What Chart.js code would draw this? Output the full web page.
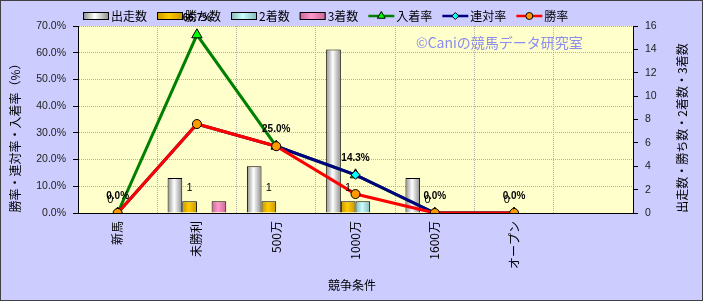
<!DOCTYPE html>
<html>
<head>
<meta charset="utf-8">
<script src="https://cdn.jsdelivr.net/npm/chart.js@4.4.0/dist/chart.umd.min.js"></script>
<style>
  html, body { margin: 0; padding: 0; background: #ccccff; }
  canvas { display: block; }
</style>
</head>
<body>
<canvas id="kyosoChart" width="703" height="301"></canvas>
<script>
// データ
const categories = ['新馬', '未勝利', '500万', '1000万', '1600万', 'オープン', ''];
const shussouSu = [0, 3, 4, 14, 3, 0, null];
const kachiSu = [0, 1, 1, 1, 0, 0, null];
const niChakuSu = [0, 0, 0, 1, 0, 0, null];
const sanChakuSu = [0, 1, 0, 0, 0, 0, null];
const nyuchakuRitsu = [0, 66.7, 25.0, 14.3, 0, 0, null];
const rentaiRitsu = [0, 33.3, 25.0, 14.3, 0, 0, null];
const shoRitsu = [0, 33.3, 25.0, 7.1, 0, 0, null];
const rateTicks = [0, 10, 20, 30, 40, 50, 60, 70];
const countTicks = [0, 2, 4, 6, 8, 10, 12, 14, 16];

const CJK = "'Noto Sans CJK JP', 'Noto Sans', sans-serif";
const LAT = "'Liberation Sans', Arial, sans-serif";
const CAT_PCT = 0.74;

// 棒グラフの円柱風グラデーション
function barFill(edge, mid, pos) {
    return (ctx) => {
        const chart = ctx.chart;
        const x = chart.scales.x;
        if (ctx.type !== 'data' || !x) return mid;
        const ruler = x.getPixelForValue(1) - x.getPixelForValue(0);
        const center = x.getPixelForValue(ctx.dataIndex);
        if (!isFinite(ruler) || !isFinite(center)) return mid;
        const group = ruler * CAT_PCT;
        const chunk = group / 4;
        const left = center - group / 2 + chunk * pos;
        const g = chart.ctx.createLinearGradient(left, 0, left + chunk, 0);
        g.addColorStop(0, edge);
        g.addColorStop(0.45, mid);
        g.addColorStop(1, edge);
        return g;
    };
}

const barColors = [
    ['#8c8c8c', '#ffffff'],
    ['#c89600', '#ffcc00'],
    ['#80b8b8', '#ccffff'],
    ['#c86496', '#ff99cc']
];

function barDataset(label, data, pos) {
    return {
        type: 'bar',
        label: label,
        data: data,
        yAxisID: 'y1',
        order: 3 + pos,
        backgroundColor: barFill(barColors[pos][0], barColors[pos][1], pos),
        borderColor: '#000',
        borderWidth: 1,
        borderSkipped: 'start',
        categoryPercentage: CAT_PCT,
        barPercentage: 1.0
    };
}

function lineDataset(label, data, color, style, fill, radius, order) {
    return {
        type: 'line',
        label: label,
        data: data,
        yAxisID: 'y',
        order: order,
        borderColor: color,
        borderWidth: 3,
        tension: 0,
        fill: false,
        pointStyle: style,
        pointRadius: radius,
        pointBackgroundColor: fill,
        pointBorderColor: '#000',
        pointBorderWidth: 1
    };
}

const datasets = [
    barDataset('出走数', shussouSu, 0),
    barDataset('勝ち数', kachiSu, 1),
    barDataset('2着数', niChakuSu, 2),
    barDataset('3着数', sanChakuSu, 3),
    lineDataset('入着率', nyuchakuRitsu, '#008000', 'triangle', '#00ff00', 6, 2),
    lineDataset('連対率', rentaiRitsu, '#000080', 'rectRot', '#00ffff', 4.5, 1),
    lineDataset('勝率', shoRitsu, '#ff0000', 'circle', '#ff9900', 4.5, 0)
];

// 背景・枠線
const backgroundPlugin = {
    id: 'background',
    beforeDraw(chart) {
        const { ctx, chartArea: a } = chart;
        ctx.save();
        ctx.fillStyle = '#ccccff';
        ctx.fillRect(0, 0, chart.width, chart.height);
        ctx.fillStyle = '#ffffcc';
        ctx.fillRect(a.left, a.top, a.right - a.left, a.bottom - a.top);
        ctx.fillStyle = '#8c8cf0';
        ctx.font = '14px ' + CJK;
        ctx.textAlign = 'left';
        ctx.textBaseline = 'middle';
        ctx.fillText('©Caniの競馬データ研究室', 416, 43);
        ctx.restore();
    },
    afterDraw(chart) {
        const ctx = chart.ctx;
        ctx.save();
        ctx.strokeStyle = '#404040';
        ctx.lineWidth = 1;
        ctx.strokeRect(0.5, 0.5, chart.width - 1, chart.height - 1);
        ctx.restore();
    }
};

function drawMarker(ctx, style, x, y, r, fill) {
    ctx.save();
    ctx.fillStyle = fill;
    ctx.strokeStyle = '#000';
    ctx.lineWidth = 1;
    ctx.beginPath();
    if (style === 'triangle') {
        ctx.moveTo(x, y - r);
        ctx.lineTo(x + r * 0.866, y + r * 0.5);
        ctx.lineTo(x - r * 0.866, y + r * 0.5);
        ctx.closePath();
    } else if (style === 'rectRot') {
        ctx.moveTo(x, y - r);
        ctx.lineTo(x + r, y);
        ctx.lineTo(x, y + r);
        ctx.lineTo(x - r, y);
        ctx.closePath();
    } else {
        ctx.arc(x, y, r, 0, Math.PI * 2);
    }
    ctx.fill();
    ctx.stroke();
    ctx.restore();
}

// 凡例（上部）
const legendPlugin = {
    id: 'topLegend',
    afterDraw(chart) {
        const ctx = chart.ctx;
        const y = 16;
        let x = 83;
        ctx.save();
        ctx.font = '12px ' + CJK;
        ctx.textBaseline = 'middle';
        ctx.textAlign = 'left';
        chart.data.datasets.forEach((ds, i) => {
            const w = 26;
            if (ds.type === 'bar') {
                const g = ctx.createLinearGradient(x, 0, x + w, 0);
                g.addColorStop(0, barColors[i][0]);
                g.addColorStop(0.45, barColors[i][1]);
                g.addColorStop(1, barColors[i][0]);
                ctx.fillStyle = g;
                ctx.fillRect(x, y - 3, w, 6);
                ctx.strokeStyle = '#000';
                ctx.lineWidth = 1;
                ctx.strokeRect(x + 0.5, y - 3.5, w - 1, 7);
            } else {
                ctx.strokeStyle = ds.borderColor;
                ctx.lineWidth = 2.5;
                ctx.beginPath();
                ctx.moveTo(x, y);
                ctx.lineTo(x + w, y);
                ctx.stroke();
                drawMarker(ctx, ds.pointStyle, x + w / 2, y, ds.pointStyle === 'triangle' ? 4.5 : 3.5, ds.pointBackgroundColor);
            }
            ctx.fillStyle = '#000';
            ctx.fillText(ds.label, x + w + 2, y);
            x += w + 2 + ctx.measureText(ds.label).width + 10;
        });
        ctx.restore();
    }
};

// データラベル・軸タイトル
const labelPlugin = {
    id: 'labels',
    afterDatasetsDraw(chart) {
        const ctx = chart.ctx;
        ctx.save();
        ctx.fillStyle = '#000';
        ctx.textAlign = 'center';
        ctx.textBaseline = 'middle';
        ctx.font = 'bold 10px ' + LAT;
        chart.getDatasetMeta(4).data.forEach((pt, i) => {
            const v = nyuchakuRitsu[i];
            if (v === null) return;
            ctx.fillText(v.toFixed(1) + '%', pt.x, pt.y - 17);
        });
        ctx.font = '11px ' + LAT;
        chart.getDatasetMeta(1).data.forEach((bar, i) => {
            const v = kachiSu[i];
            if (v === null) return;
            ctx.fillText(String(v), bar.x, bar.y - 13);
        });
        ctx.restore();
    },
    afterDraw(chart) {
        const ctx = chart.ctx;
        ctx.save();
        ctx.fillStyle = '#000';
        ctx.textAlign = 'center';
        ctx.textBaseline = 'middle';
        ctx.font = '12px ' + CJK;
        ctx.fillText('競争条件', 352, 285);
        [[15, 135, '勝率・連対率・入着率（%）'], [682, 128, '出走数・勝ち数・2着数・3着数']].forEach(([tx, ty, t]) => {
            ctx.save();
            ctx.translate(tx, ty);
            ctx.rotate(-Math.PI / 2);
            ctx.fillText(t, 0, 0);
            ctx.restore();
        });
        ctx.restore();
    }
};

new Chart(document.getElementById('kyosoChart'), {
    type: 'bar',
    data: { labels: categories, datasets: datasets },
    plugins: [backgroundPlugin, legendPlugin, labelPlugin],
    options: {
        responsive: false,
        animation: false,
        devicePixelRatio: 1,
        layout: { padding: { top: 26, left: 0, right: 0, bottom: 0 } },
        plugins: { legend: { display: false }, tooltip: { enabled: false } },
        scales: {
            x: {
                offset: true,
                grid: { display: true, offset: true, color: '#b0b0b0', drawTicks: false },
                border: { display: true, color: '#000', dash: [1, 1] },
                ticks: {
                    autoSkip: false, minRotation: 90, maxRotation: 90, padding: 8,
                    color: '#000', font: { family: CJK, size: 12 }
                },
                afterFit(scale) { scale.height = 88; }
            },
            y: {
                position: 'left',
                min: rateTicks[0],
                max: rateTicks[rateTicks.length - 1],
                grid: { color: '#b0b0b0', tickLength: 5, tickColor: '#000' },
                border: { display: true, color: '#000', dash: [1, 1] },
                ticks: {
                    stepSize: rateTicks[1] - rateTicks[0], padding: 7, color: '#222',
                    font: { family: LAT, size: 10.5 },
                    callback: (v) => v.toFixed(1) + '%'
                },
                afterFit(scale) { scale.width = 78; }
            },
            y1: {
                position: 'right',
                min: countTicks[0],
                max: countTicks[countTicks.length - 1],
                grid: { drawOnChartArea: false, tickLength: 5, tickColor: '#000' },
                border: { display: true, color: '#000' },
                ticks: {
                    stepSize: countTicks[1] - countTicks[0], padding: 7, color: '#222',
                    font: { family: LAT, size: 10.5 }
                },
                afterFit(scale) { scale.width = 70; }
            }
        }
    }
});
</script>
</body>
</html>
